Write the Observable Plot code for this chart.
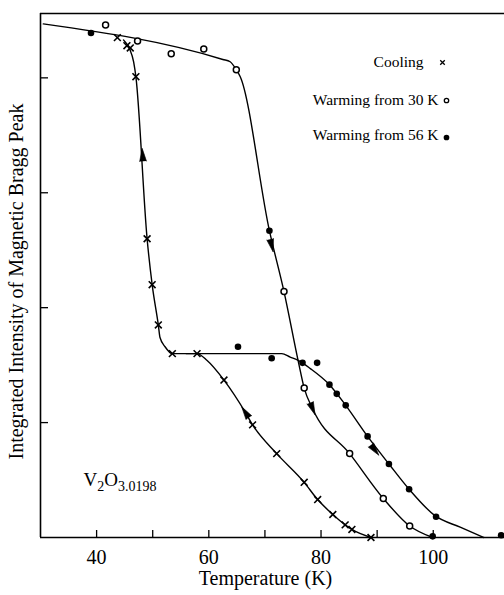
<!DOCTYPE html>
<html>
<head>
<meta charset="utf-8">
<script src="https://cdn.jsdelivr.net/npm/d3@7"></script>
<script src="https://cdn.jsdelivr.net/npm/@observablehq/plot@0.6"></script>
<style>
  html, body { margin: 0; padding: 0; background: #fff; }
  #chart svg { display: block; }
</style>
</head>
<body>
<div id="chart"></div>
<script>
// ---------- data ----------
// Cooling (× markers)
const coolingT = [43.7, 45.4, 46.0, 47.0, 49.0, 49.9, 51.0, 53.5, 57.9, 62.7, 67.8, 72.1, 77.0, 79.4, 82.1, 84.3, 85.5, 88.9];
const coolingI = [4.35, 4.28, 4.26, 4.01, 2.60, 2.20, 1.85, 1.60, 1.60, 1.37, 0.98, 0.73, 0.48, 0.33, 0.20, 0.11, 0.07, 0.00];
// Warming from 30 K (open circles)
const warm30T = [41.6, 47.3, 53.3, 59.1, 64.9, 73.4, 77.0, 85.1, 91.1, 95.8];
const warm30I = [4.46, 4.32, 4.21, 4.25, 4.07, 2.14, 1.30, 0.73, 0.34, 0.10];
// Warming from 56 K (filled dots)
const warm56T = [39.0, 70.8, 65.2, 71.2, 76.7, 79.3, 81.5, 82.8, 84.4, 88.3, 92.1, 95.7, 100.5, 99.9, 112.1];
const warm56I = [4.39, 2.67, 1.66, 1.56, 1.52, 1.52, 1.33, 1.25, 1.15, 0.88, 0.64, 0.42, 0.18, 0.01, 0.02];

// Hand-drawn guide curves
const coolCurveT = [44.8, 45.9, 46.6, 47.0, 49.0, 49.9, 51.0, 51.3, 52.2, 53.5, 57.9, 59.7, 62.7, 66.5, 67.8, 72.1, 77.0, 79.4, 82.1, 84.3, 85.5, 88.9];
const coolCurveI = [4.33, 4.25, 4.14, 4.01, 2.60, 2.20, 1.85, 1.74, 1.66, 1.60, 1.60, 1.54, 1.37, 1.09, 0.98, 0.73, 0.48, 0.33, 0.20, 0.11, 0.07, 0.00];
const warm30CurveT = [30.5, 62.5, 63.8, 64.9, 65.6, 70.8, 73.4, 76.0, 77.0, 78.5, 85.1, 91.1, 95.8, 99.9];
const warm30CurveI = [4.47, 4.16, 4.14, 4.07, 4.01, 2.67, 2.14, 1.52, 1.30, 1.12, 0.73, 0.34, 0.10, 0.00];
const warm56CurveT = [56.0, 73.0, 74.5, 76.0, 78.1, 81.5, 84.4, 88.3, 92.1, 95.7, 100.3, 104.8, 109.0];
const warm56CurveI = [1.60, 1.60, 1.57, 1.54, 1.47, 1.33, 1.15, 0.88, 0.64, 0.42, 0.19, 0.09, 0.00];

// Direction arrows on the curves
const arrowCurve = ["cooling", "warm30", "warm30", "cooling", "warm56"];
const arrowT = [48.2, 71.2, 78.5, 66.5, 89.6];
const arrowI = [3.33, 2.54, 1.12, 1.09, 0.76];
const arrowDir = [-1, 1, 1, -1, 1];

// Axes
const xDomain = [30, 112.7];
const yDomain = [0, 4.56];
const xTicks = [40, 50, 60, 70, 80, 90, 100];
const xTickLabels = [40, 60, 80, 100];
const yTicks = [1, 2, 3, 4];

// Texts
const xLabel = "Temperature (K)";
const yLabel = "Integrated Intensity of Magnetic Bragg Peak";
const sampleLabel = "V2O3.0198";
const legendLabels = ["Cooling", "Warming from 30 K", "Warming from 56 K"];

// ---------- layout ----------
const W = 504, H = 595, ML = 40, MR = 0, MT = 13, MB = 58;
const plotW = W - ML - MR, plotH = H - MT - MB;

const zip = (T, I) => T.map((t, i) => ({T: t, I: I[i]}));
const cooling = zip(coolingT, coolingI);
const warm30 = zip(warm30T, warm30I);
const warm56 = zip(warm56T, warm56I);
const curves = {
  cooling: {T: coolCurveT, I: coolCurveI},
  warm30: {T: warm30CurveT, I: warm30CurveI},
  warm56: {T: warm56CurveT, I: warm56CurveI}
};

const sx = Plot.scale({x: {domain: xDomain, range: [ML, W - MR]}});
const sy = Plot.scale({y: {domain: yDomain, range: [H - MB, MT]}});
function arrowAngle(k) {
  const c = curves[arrowCurve[k]], t = arrowT[k];
  let i = 0;
  while (i < c.T.length - 2 && c.T[i + 1] < t) i++;
  const vx = (sx.apply(c.T[i + 1]) - sx.apply(c.T[i])) * arrowDir[k];
  const vy = (sy.apply(c.I[i + 1]) - sy.apply(c.I[i])) * arrowDir[k];
  return Math.atan2(vy, vx) * 180 / Math.PI + 90;
}
const arrows = arrowT.map((t, k) => ({T: t, I: arrowI[k], angle: arrowAngle(k)}));

const lineOpts = {x: "T", y: "I", stroke: "black", strokeWidth: 1.4, curve: "monotone-x"};
const legendPos = [
  {tx: 383, ty: 49, mx: 402, my: 49, symbol: "times", fill: "none", r: 2.2},
  {tx: 398, ty: 87, mx: 406, my: 87, symbol: "circle", fill: "white", r: 2.2},
  {tx: 398, ty: 122, mx: 406, my: 124, symbol: "circle", fill: "black", r: 2.2}
];

const marks = [
  // frame (left, bottom, top)
  Plot.ruleX([xDomain[0]], {x: d => d, stroke: "black", strokeWidth: 1.6}),
  Plot.ruleY([yDomain[0], yDomain[1]], {y: d => d, stroke: "black", strokeWidth: 1.6}),
  // inward ticks
  Plot.ruleX(xTicks, {x: d => d, insetTop: plotH - 7, stroke: "black", strokeWidth: 1.3}),
  Plot.ruleY(yTicks, {y: d => d, insetRight: plotW - 8, stroke: "black", strokeWidth: 1.3}),
  Plot.axisX(xTickLabels, {tickSize: 0, tickPadding: 12, tickFormat: d => String(d), label: null}),
  // curves
  Plot.line(zip(warm30CurveT, warm30CurveI), lineOpts),
  Plot.line(zip(coolCurveT, coolCurveI), lineOpts),
  Plot.line(zip(warm56CurveT, warm56CurveI), lineOpts),
  // arrows
  Plot.vector(arrows, {x: "T", y: "I", rotate: "angle", length: 13, r: 3.4, shape: "spike", anchor: "middle", fill: "black", stroke: "black", strokeWidth: 0.6}),
  // markers
  Plot.dot(warm30, {x: "T", y: "I", r: 3, stroke: "black", fill: "white", strokeWidth: 1.5}),
  Plot.dot(warm56, {x: "T", y: "I", r: 3.3, fill: "black"}),
  Plot.dot(cooling, {x: "T", y: "I", symbol: "times", r: 3.2, stroke: "black", strokeWidth: 1.6}),
  // axis labels
  Plot.text([xLabel], {text: d => d, frameAnchor: "bottom", textAnchor: "middle", lineAnchor: "middle", dx: -7, dy: 41, fontSize: 20}),
  Plot.text([yLabel], {text: d => d, frameAnchor: "left", textAnchor: "middle", lineAnchor: "middle", rotate: -90, dx: -24, dy: 6, fontSize: 20}),
  // sample label
  Plot.text([sampleLabel], {text: d => d, frameAnchor: "bottom-left", dx: 43, dy: -52, textAnchor: "start", fontSize: 19})
];
legendLabels.forEach((lab, k) => {
  const p = legendPos[k];
  marks.push(Plot.text([lab], {text: d => d, frameAnchor: "top-left", dx: p.tx, dy: p.ty, textAnchor: "end", lineAnchor: "middle", fontSize: 15.5}));
  marks.push(Plot.dot([lab], {frameAnchor: "top-left", dx: p.mx, dy: p.my, symbol: p.symbol, r: p.r, stroke: "black", fill: p.fill, strokeWidth: 1.3}));
});

const chart = Plot.plot({
  width: W, height: H,
  marginLeft: ML, marginRight: MR, marginTop: MT, marginBottom: MB,
  style: {fontFamily: "'Liberation Serif', 'Times New Roman', serif", fontSize: "20px", color: "black", background: "white"},
  x: {domain: xDomain},
  y: {domain: yDomain, axis: null},
  marks
});

// subscripts in the sample label
d3.select(chart).selectAll("text").filter(function () { return this.textContent === sampleLabel; })
  .each(function () {
    const t = d3.select(this);
    t.text(null);
    t.append("tspan").text("V");
    t.append("tspan").attr("dy", "5").attr("font-size", "14").text("2");
    t.append("tspan").attr("dy", "-5").text("O");
    t.append("tspan").attr("dy", "5").attr("font-size", "14").text("3.0198");
  });

document.getElementById("chart").appendChild(chart);
</script>
</body>
</html>
